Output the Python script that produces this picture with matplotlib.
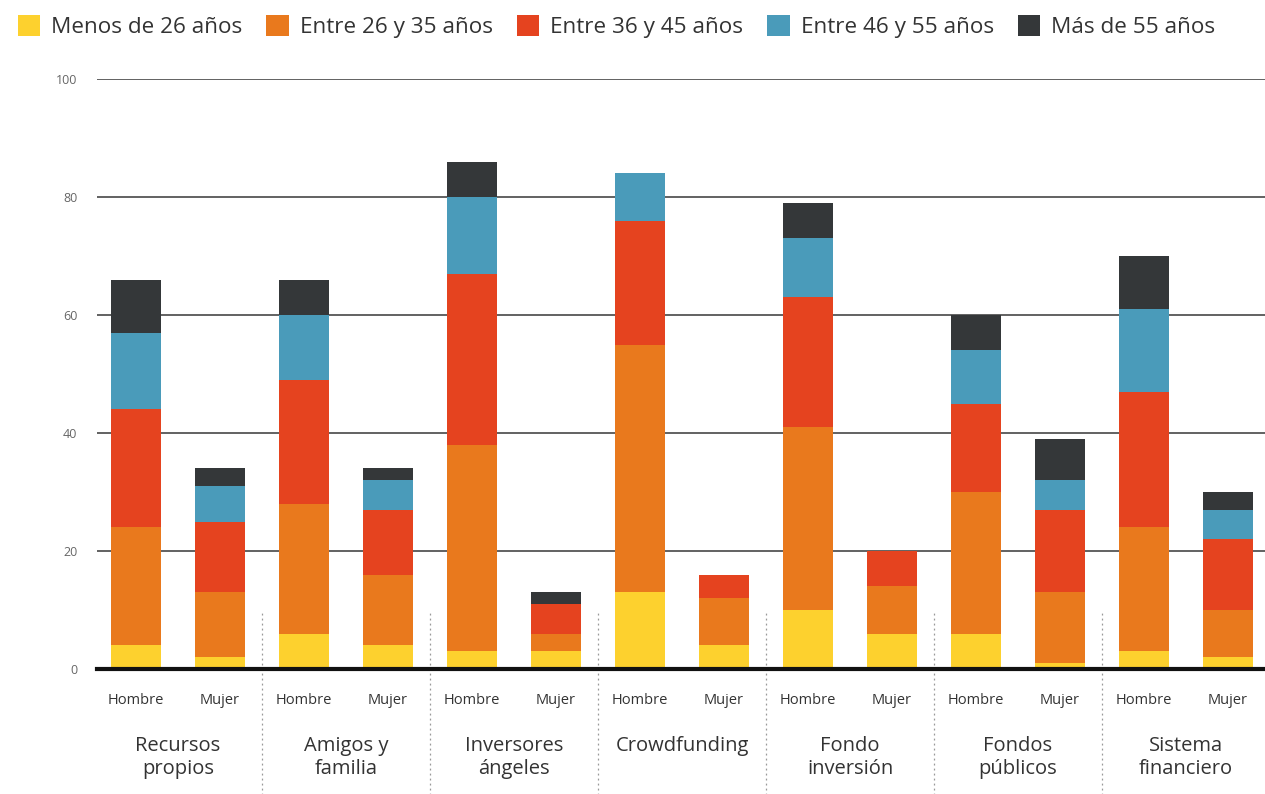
import numpy as np
import matplotlib
matplotlib.use("Agg")
import matplotlib.pyplot as plt
import matplotlib.transforms as mtransforms
from matplotlib.patches import Patch

plt.rcParams['font.family'] = ['Open Sans', 'DejaVu Sans']

# datos
categorias = ['Recursos\npropios', 'Amigos y\nfamilia', 'Inversores\nángeles', 'Crowdfunding',
              'Fondo\ninversión', 'Fondos\npúblicos', 'Sistema\nfinanciero']
sexos = ['Hombre', 'Mujer']
series = ['Menos de 26 años', 'Entre 26 y 35 años', 'Entre 36 y 45 años',
          'Entre 46 y 55 años', 'Más de 55 años']
colores = ['#FDD12E', '#E9791D', '#E5431F', '#4A9BBA', '#343739']

# valores por barra (Hombre, Mujer alternados)
menos26 = [4, 2, 6, 4, 3, 3, 13, 4, 10, 6, 6, 1, 3, 2]
e26_35 = [20, 11, 22, 12, 35, 3, 42, 8, 31, 8, 24, 12, 21, 8]
e36_45 = [20, 12, 21, 11, 29, 5, 21, 4, 22, 6, 15, 14, 23, 12]
e46_55 = [13, 6, 11, 5, 13, 0, 8, 0, 10, 0, 9, 5, 14, 5]
mas55 = [9, 3, 6, 2, 6, 2, 0, 0, 6, 0, 6, 7, 9, 3]
valores = [menos26, e26_35, e36_45, e46_55, mas55]

fig = plt.figure(figsize=(12.65, 7.94), dpi=100)
ax = fig.add_axes([97/1265, 1-669/794, 1-97/1265, 590/794])

x = np.arange(len(menos26))
base = np.zeros(len(x))
for nombre, v, c in zip(series, valores, colores):
    ax.bar(x, v, width=0.595, bottom=base, color=c, zorder=2)
    base = base + np.array(v)

ax.set_ylim(0, 100)
ax.set_xlim(-0.464, len(x) - 1 + 0.44)
ax.set_yticks([0, 20, 40, 60, 80, 100])
ax.yaxis.grid(True, color='#555555', linewidth=1.3, zorder=0)
ax.set_axisbelow(True)
ax.tick_params(axis='y', length=0, pad=14, labelsize=9, labelcolor='#666666')
ax.tick_params(axis='x', length=0, pad=17, labelsize=10.5, labelcolor='#333333')
ax.set_xticks(x)
ax.set_xticklabels(sexos * len(categorias))
for s in ['top', 'right', 'left']:
    ax.spines[s].set_visible(False)
ax.spines['bottom'].set_linewidth(3)
ax.spines['bottom'].set_color('#111111')
ax.spines['bottom'].set_zorder(3)

trans = mtransforms.blended_transform_factory(ax.transData, ax.transAxes)
for g, cat in enumerate(categorias):
    ax.text(2*g + 0.5, -0.113, cat, transform=trans, ha='center', va='top',
            fontsize=14.5, color='#333333', linespacing=1.2)
    if g > 0:
        ax.plot([2*g - 0.5, 2*g - 0.5], [-0.215, 0.1], transform=trans,
                color='#999999', linestyle=(0, (1.5, 2.5)), linewidth=0.9,
                clip_on=False, zorder=1)

handles = [Patch(facecolor=c, label=n) for n, c in zip(series, colores)]
fig.legend(handles=handles, loc='upper left', bbox_to_anchor=(-0.002, 1.006), ncol=5,
           frameon=False, fontsize=16.2, handlelength=1.0, handleheight=1.0,
           handletextpad=0.5, columnspacing=1.05, labelcolor='#333333')

fig.savefig('out.png', dpi=100)
